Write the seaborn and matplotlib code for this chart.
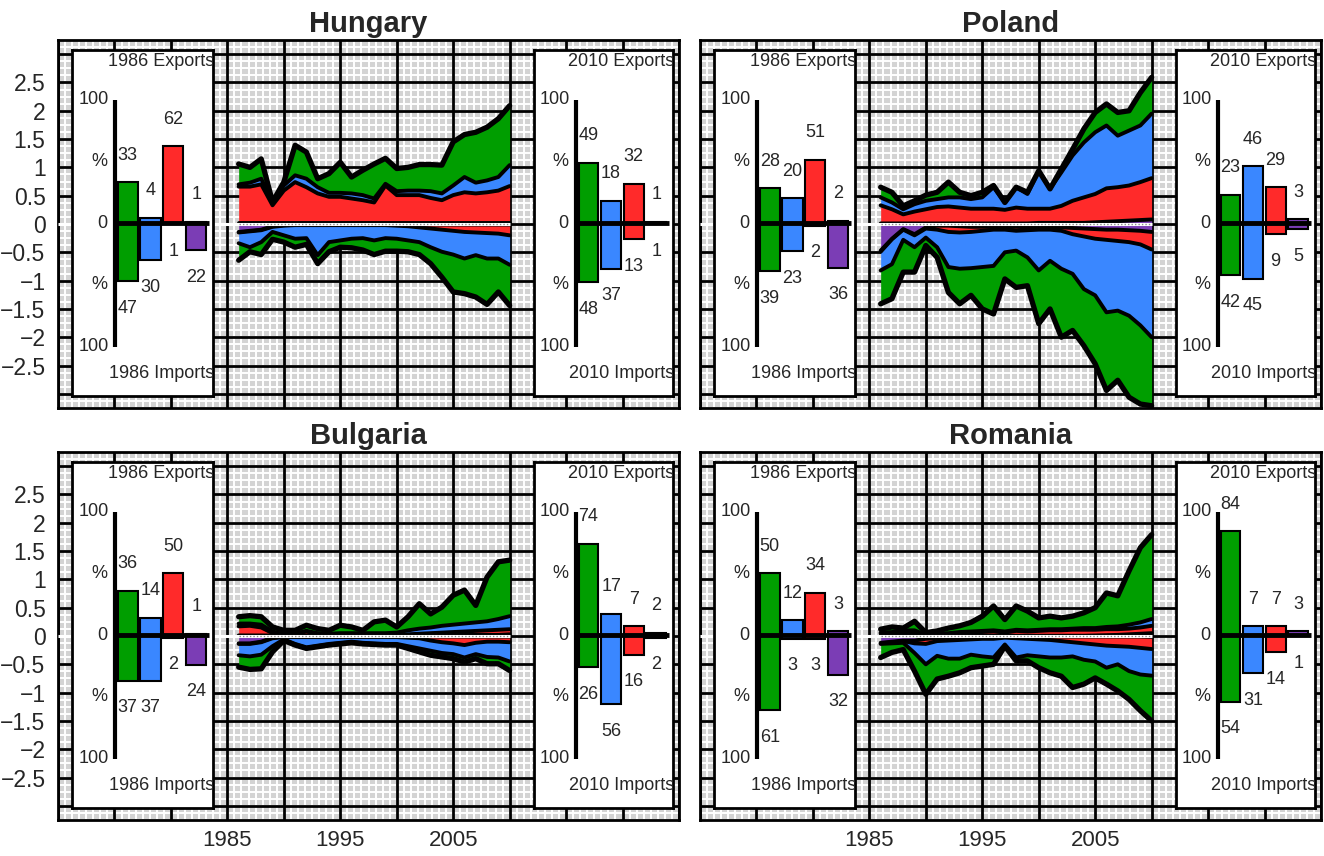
import numpy as np
import matplotlib
matplotlib.use('Agg')
import matplotlib.pyplot as plt
import seaborn as sns
import pandas as pd

# ---------------- data ----------------
years = list(range(1986, 2011))
categories = ['green', 'blue', 'red', 'purple']
palette = {'green': '#009E00', 'blue': '#3A87FF', 'red': '#FF2A2A', 'purple': '#7B3DB5'}

# cumulative stacked levels (from zero outward): purple, +red, +blue, +green(total)
hu_exp_purple = [0.01] * 25
hu_exp_red = [0.66, 0.66, 0.70, 0.33, 0.59, 0.74, 0.65, 0.54, 0.48, 0.48, 0.45, 0.42, 0.38, 0.68, 0.51, 0.51, 0.51, 0.46, 0.42, 0.51, 0.56, 0.54, 0.56, 0.59, 0.67]
hu_exp_blue = [0.70, 0.73, 0.80, 0.37, 0.68, 0.86, 0.80, 0.65, 0.55, 0.55, 0.54, 0.51, 0.45, 0.71, 0.58, 0.59, 0.59, 0.58, 0.54, 0.68, 0.83, 0.73, 0.77, 0.83, 1.04]
hu_exp_total = [1.06, 1.00, 1.15, 0.39, 0.74, 1.39, 1.27, 0.80, 0.89, 1.09, 0.83, 0.95, 1.06, 1.16, 0.98, 1.00, 1.05, 1.05, 1.04, 1.45, 1.58, 1.62, 1.71, 1.86, 2.09]
hu_imp_purple = [0.14, 0.12, 0.10, 0.04, 0.02] + [0.01] * 20
hu_imp_red = [0.15, 0.13, 0.11, 0.05, 0.03, 0.02, 0.02, 0.02, 0.02, 0.02, 0.02, 0.02, 0.02, 0.02, 0.03, 0.04, 0.06, 0.08, 0.10, 0.12, 0.14, 0.15, 0.16, 0.17, 0.20]
hu_imp_blue = [0.34, 0.41, 0.32, 0.14, 0.20, 0.26, 0.25, 0.55, 0.32, 0.29, 0.26, 0.25, 0.29, 0.25, 0.26, 0.29, 0.32, 0.41, 0.49, 0.54, 0.61, 0.55, 0.61, 0.61, 0.72]
hu_imp_total = [0.64, 0.49, 0.54, 0.27, 0.32, 0.41, 0.36, 0.70, 0.49, 0.41, 0.42, 0.46, 0.54, 0.48, 0.48, 0.49, 0.54, 0.70, 0.94, 1.20, 1.23, 1.29, 1.42, 1.20, 1.44]

pl_exp_purple = [0.01] * 14 + [0.02] * 5 + [0.03, 0.04, 0.05, 0.06, 0.07, 0.08]
pl_exp_red = [0.33, 0.26, 0.17, 0.22, 0.26, 0.30, 0.31, 0.29, 0.27, 0.27, 0.27, 0.25, 0.29, 0.27, 0.27, 0.27, 0.32, 0.41, 0.47, 0.53, 0.63, 0.65, 0.68, 0.74, 0.81]
pl_exp_blue = [0.47, 0.38, 0.26, 0.35, 0.41, 0.44, 0.47, 0.47, 0.44, 0.47, 0.65, 0.38, 0.65, 0.53, 0.94, 0.62, 0.91, 1.21, 1.44, 1.62, 1.74, 1.56, 1.65, 1.74, 1.95]
pl_exp_total = [0.65, 0.56, 0.32, 0.41, 0.51, 0.56, 0.74, 0.56, 0.50, 0.56, 0.68, 0.38, 0.65, 0.56, 0.94, 0.62, 0.97, 1.32, 1.68, 1.97, 2.12, 1.97, 2.00, 2.32, 2.59]
pl_imp_purple = [0.47, 0.26, 0.09, 0.18, 0.06, 0.03, 0.03, 0.04, 0.05, 0.05, 0.05, 0.06, 0.05, 0.06, 0.05, 0.05, 0.06, 0.07, 0.08, 0.09, 0.10, 0.10, 0.11, 0.12, 0.14]
pl_imp_red = [0.49, 0.27, 0.10, 0.20, 0.08, 0.10, 0.14, 0.15, 0.14, 0.12, 0.10, 0.10, 0.12, 0.11, 0.10, 0.10, 0.12, 0.18, 0.22, 0.26, 0.28, 0.30, 0.32, 0.36, 0.45]
pl_imp_blue = [0.82, 0.71, 0.28, 0.41, 0.24, 0.41, 0.76, 0.79, 0.78, 0.76, 0.74, 0.50, 0.47, 0.59, 0.82, 0.65, 0.79, 0.88, 1.15, 1.26, 1.56, 1.53, 1.62, 1.79, 2.00]
pl_imp_total = [1.41, 1.32, 0.85, 0.85, 0.38, 0.59, 1.21, 1.41, 1.26, 1.50, 1.59, 0.97, 1.12, 1.09, 1.76, 1.50, 2.00, 1.88, 2.15, 2.47, 2.94, 2.76, 3.06, 3.18, 3.21]

bg_exp_purple = [0.01] * 19 + [0.02] * 5 + [0.03]
bg_exp_red = [0.17, 0.18, 0.15, 0.05, 0.02, 0.03, 0.08, 0.03, 0.02, 0.02, 0.02, 0.02, 0.02, 0.02, 0.02, 0.03, 0.04, 0.05, 0.06, 0.07, 0.08, 0.09, 0.10, 0.11, 0.12]
bg_exp_blue = [0.22, 0.22, 0.20, 0.08, 0.03, 0.04, 0.09, 0.05, 0.04, 0.05, 0.05, 0.05, 0.05, 0.05, 0.06, 0.10, 0.13, 0.15, 0.18, 0.20, 0.22, 0.24, 0.26, 0.30, 0.35]
bg_exp_total = [0.34, 0.36, 0.34, 0.16, 0.10, 0.10, 0.19, 0.13, 0.10, 0.19, 0.16, 0.10, 0.25, 0.28, 0.16, 0.34, 0.57, 0.39, 0.51, 0.72, 0.81, 0.54, 1.04, 1.31, 1.34]
bg_imp_purple = [0.13, 0.13, 0.10, 0.03] + [0.01] * 21
bg_imp_red = [0.14, 0.14, 0.11, 0.04, 0.02, 0.02, 0.02, 0.02, 0.02, 0.02, 0.02, 0.02, 0.02, 0.02, 0.02, 0.03, 0.04, 0.08, 0.11, 0.13, 0.16, 0.12, 0.10, 0.10, 0.11]
bg_imp_blue = [0.34, 0.36, 0.33, 0.18, 0.06, 0.14, 0.20, 0.17, 0.14, 0.12, 0.10, 0.12, 0.13, 0.14, 0.14, 0.18, 0.22, 0.26, 0.30, 0.32, 0.38, 0.32, 0.37, 0.38, 0.45]
bg_imp_total = [0.55, 0.59, 0.58, 0.28, 0.08, 0.16, 0.22, 0.19, 0.16, 0.14, 0.12, 0.14, 0.15, 0.16, 0.16, 0.22, 0.28, 0.34, 0.37, 0.40, 0.46, 0.40, 0.49, 0.49, 0.61]

ro_exp_purple = [0.005] * 19 + [0.01, 0.015, 0.02, 0.03, 0.04, 0.05]
ro_exp_red = [0.045, 0.05, 0.04, 0.05, 0.01, 0.02, 0.03, 0.05, 0.06, 0.07, 0.08, 0.06, 0.09, 0.08, 0.09, 0.10, 0.10, 0.11, 0.11, 0.11, 0.12, 0.12, 0.13, 0.15, 0.18]
ro_exp_blue = [0.06, 0.07, 0.10, 0.10, 0.02, 0.04, 0.05, 0.07, 0.08, 0.09, 0.10, 0.08, 0.11, 0.10, 0.11, 0.12, 0.12, 0.13, 0.14, 0.14, 0.16, 0.17, 0.20, 0.24, 0.30]
ro_exp_total = [0.12, 0.16, 0.14, 0.26, 0.06, 0.09, 0.14, 0.18, 0.24, 0.35, 0.53, 0.29, 0.53, 0.44, 0.32, 0.35, 0.32, 0.35, 0.41, 0.50, 0.76, 0.71, 1.15, 1.56, 1.79]
ro_imp_purple = [0.12, 0.10, 0.08, 0.08, 0.05, 0.04, 0.04, 0.04, 0.03, 0.03, 0.02] + [0.01] * 13 + [0.015]
ro_imp_red = [0.13, 0.11, 0.09, 0.13, 0.14, 0.09, 0.08, 0.07, 0.06, 0.05, 0.05, 0.03, 0.04, 0.05, 0.06, 0.07, 0.09, 0.11, 0.13, 0.15, 0.17, 0.18, 0.19, 0.21, 0.23]
ro_imp_blue = [0.14, 0.13, 0.12, 0.30, 0.50, 0.35, 0.40, 0.40, 0.33, 0.36, 0.38, 0.15, 0.38, 0.34, 0.36, 0.38, 0.38, 0.36, 0.42, 0.45, 0.56, 0.50, 0.62, 0.68, 0.70]
ro_imp_total = [0.38, 0.29, 0.24, 0.62, 1.03, 0.76, 0.71, 0.65, 0.56, 0.53, 0.50, 0.18, 0.44, 0.44, 0.56, 0.65, 0.71, 0.91, 0.85, 0.74, 0.85, 0.97, 1.12, 1.32, 1.50]

# inset shares (%) in order green, blue, red, purple
hu_1986_exp = [33, 4, 62, 1];   hu_1986_imp = [47, 30, 1, 22]
hu_2010_exp = [49, 18, 32, 1];  hu_2010_imp = [48, 37, 13, 1]
pl_1986_exp = [28, 20, 51, 2];  pl_1986_imp = [39, 23, 2, 36]
pl_2010_exp = [23, 46, 29, 3];  pl_2010_imp = [42, 45, 9, 5]
bg_1986_exp = [36, 14, 50, 1];  bg_1986_imp = [37, 37, 2, 24]
bg_2010_exp = [74, 17, 7, 2];   bg_2010_imp = [26, 56, 16, 2]
ro_1986_exp = [50, 12, 34, 3];  ro_1986_imp = [61, 3, 3, 32]
ro_2010_exp = [84, 7, 7, 3];    ro_2010_imp = [54, 31, 14, 1]

ytick_vals = [2.5, 2, 1.5, 1, 0.5, 0, -0.5, -1, -1.5, -2, -2.5]
xtick_vals = [1985, 1995, 2005]

# ---------------- style ----------------
sns.set_theme(style='white')
plt.rcParams['font.family'] = ['Liberation Sans', 'DejaVu Sans']

FIG_W, FIG_H = 1324, 856
fig = plt.figure(figsize=(FIG_W / 100, FIG_H / 100), dpi=100)


def px_axes(x0, y0, x1, y1):
    return fig.add_axes([x0 / FIG_W, 1 - y1 / FIG_H, (x1 - x0) / FIG_W, (y1 - y0) / FIG_H])


def draw_inset(ax, bounds, label_year, exp_vals, imp_vals):
    ia = ax.inset_axes(bounds)
    ia.set_facecolor('white')
    df_e = pd.DataFrame({'cat': categories, 'val': exp_vals})
    df_i = pd.DataFrame({'cat': categories, 'val': [-v for v in imp_vals]})
    for df in (df_e, df_i):
        sns.barplot(data=df, x='cat', y='val', hue='cat', order=categories, hue_order=categories,
                    palette=palette, saturation=1, width=0.88, edgecolor='black', linewidth=1.5,
                    errorbar=None, legend=False, ax=ia)
    ia.set_xlim(-2.43, 3.75)
    ia.set_ylim(-140, 140)
    ia.set_xticks([]); ia.set_yticks([])
    ia.set_xlabel(''); ia.set_ylabel('')
    for s in ia.spines.values():
        s.set_visible(True); s.set_color('black'); s.set_linewidth(2)
    ia.plot([-0.55, -0.55], [-100, 100], color='black', lw=3, solid_capstyle='butt', zorder=6)
    ia.plot([-0.55, 3.55], [0, 0], color='black', lw=3.5, solid_capstyle='butt', zorder=6)
    fs = 13
    for i, v in enumerate(exp_vals):
        ia.text(i, v + 22, str(v), ha='center', va='center', fontsize=fs)
    for i, v in enumerate(imp_vals):
        ia.text(i, -(v + 22), str(v), ha='center', va='center', fontsize=fs)
    for yy, t, xx in [(100, '100', -1.5), (-100, '100', -1.5), (50, '%', -1.25), (-50, '%', -1.25), (0, '0', -1.1)]:
        ia.text(xx, yy, t, ha='center', va='center', fontsize=fs)
    ia.text(3.80, 131, f'{label_year} Exports', ha='right', va='center', fontsize=fs, clip_on=True)
    ia.text(3.80, -122, f'{label_year} Imports', ha='right', va='center', fontsize=fs, clip_on=True)
    return ia


def draw_panel(ax, title, exp_levels, imp_levels, ins86, ins10, show_y, show_x):
    ax.set_facecolor('#D3D3D3')
    ax.set_xlim(1970, 2025)
    ax.set_ylim(-3.25, 3.25)
    for xv in np.arange(1970, 2025.01, 0.625):
        ax.axvline(xv, color='white', lw=1.4, zorder=0.5)
    for yv in np.arange(-3.25, 3.26, 0.125):
        ax.axhline(yv, color='white', lw=1.4, zorder=0.5)
    for yr in range(1970, 2026, 5):
        ax.axvline(yr, color='black', lw=2.0, zorder=0.6)
    for yv in np.arange(-3.0, 3.01, 0.5):
        ax.axhline(yv, color='black', lw=2.0, zorder=0.6)

    yrs = np.array(years)
    fill_cols = ['purple', 'red', 'blue', 'green']
    for levels, sign in ((exp_levels, 1), (imp_levels, -1)):
        prev = np.zeros(len(yrs))
        for col, lev in zip(fill_cols, levels):
            lev = np.array(lev) * sign
            ax.fill_between(yrs, prev, lev, color=palette[col], lw=0, zorder=2)
            prev = lev
        for k, lev in enumerate(levels):
            lw = 3.8 if k == 3 else 2.8
            sns.lineplot(x=yrs, y=np.array(lev) * sign, color='black', lw=lw, ax=ax,
                         solid_joinstyle='round', solid_capstyle='round', zorder=3)
    ax.plot([1970, 2010], [0, 0], color='white', lw=2.2, zorder=4, solid_capstyle='butt')
    ax.plot([1986, 2010], [0, 0], color='#8a8a8a', lw=1.0, ls=(0, (1, 1.5)), zorder=4.5)

    for s in ax.spines.values():
        s.set_visible(True); s.set_color('black'); s.set_linewidth(2)
    ax.set_yticks(ytick_vals)
    if show_y:
        ax.set_yticklabels([('%g' % v).replace('-', '\u2212') for v in ytick_vals], fontsize=16.5)
    else:
        ax.set_yticklabels([])
    ax.set_xticks(xtick_vals)
    if show_x:
        ax.set_xticklabels([str(v) for v in xtick_vals], fontsize=16)
    else:
        ax.set_xticklabels([])
    ax.tick_params(length=0, pad=9)
    ax.tick_params(axis='x', pad=7)
    ax.set_xlabel(''); ax.set_ylabel('')
    ax.set_title(title, fontsize=21, fontweight='bold', pad=6)

    draw_inset(ax, [0.023, 0.0326, 0.227, 0.940], 1986, *ins86)
    draw_inset(ax, [0.766, 0.0326, 0.2246, 0.940], 2010, *ins10)


panels = [
    ('Hungary', (58, 40, 679, 408),
     (hu_exp_purple, hu_exp_red, hu_exp_blue, hu_exp_total),
     (hu_imp_purple, hu_imp_red, hu_imp_blue, hu_imp_total),
     (hu_1986_exp, hu_1986_imp), (hu_2010_exp, hu_2010_imp), True, False),
    ('Poland', (700, 40, 1321, 408),
     (pl_exp_purple, pl_exp_red, pl_exp_blue, pl_exp_total),
     (pl_imp_purple, pl_imp_red, pl_imp_blue, pl_imp_total),
     (pl_1986_exp, pl_1986_imp), (pl_2010_exp, pl_2010_imp), False, False),
    ('Bulgaria', (58, 452, 679, 820),
     (bg_exp_purple, bg_exp_red, bg_exp_blue, bg_exp_total),
     (bg_imp_purple, bg_imp_red, bg_imp_blue, bg_imp_total),
     (bg_1986_exp, bg_1986_imp), (bg_2010_exp, bg_2010_imp), True, True),
    ('Romania', (700, 452, 1321, 820),
     (ro_exp_purple, ro_exp_red, ro_exp_blue, ro_exp_total),
     (ro_imp_purple, ro_imp_red, ro_imp_blue, ro_imp_total),
     (ro_1986_exp, ro_1986_imp), (ro_2010_exp, ro_2010_imp), False, True),
]

for title, box, exp_l, imp_l, i86, i10, sy, sx in panels:
    ax = px_axes(*box)
    draw_panel(ax, title, exp_l, imp_l, i86, i10, sy, sx)

fig.savefig('out.png', dpi=100, facecolor='white')
